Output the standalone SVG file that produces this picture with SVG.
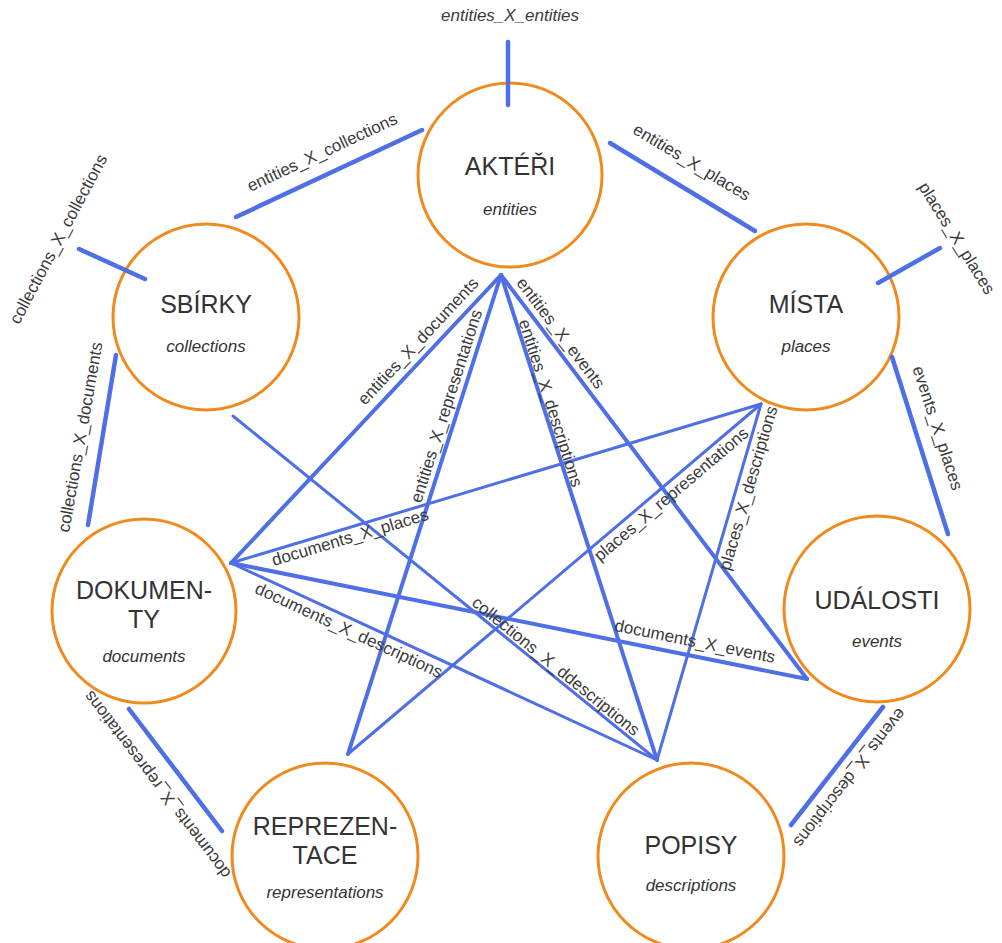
<svg xmlns="http://www.w3.org/2000/svg" width="1002" height="943" viewBox="0 0 1002 943">
<style>
.bg{fill:#ffffff}
.node circle{fill:#ffffff;stroke:#f08a1e;stroke-width:3}
.title{font-family:"Liberation Sans",Arial,sans-serif;font-size:25px;fill:#333333;text-anchor:middle}
.sub{font-family:"Liberation Sans",Arial,sans-serif;font-size:17px;font-style:italic;fill:#333333;text-anchor:middle}
.c line{stroke:#4f6fe6;stroke-linecap:round;fill:none}
.w5{stroke-width:4.5}
.w4{stroke-width:4}
.w3{stroke-width:3}
.lbl{font-family:"Liberation Sans",Arial,sans-serif;font-size:17px;fill:#3a3a3a;text-anchor:middle}
</style>
<rect class="bg" x="0" y="0" width="1002" height="943"/>
<g id="node-akteri" class="node"><circle cx="510" cy="175" r="92"/><text class="title" x="510" y="175">AKTÉŘI</text><text class="sub" x="510" y="215">entities</text></g>
<g id="node-sbirky" class="node"><circle cx="206" cy="317" r="93"/><text class="title" x="206" y="313">SBÍRKY</text><text class="sub" x="206" y="352">collections</text></g>
<g id="node-mista" class="node"><circle cx="806" cy="317" r="93"/><text class="title" x="806" y="313">MÍSTA</text><text class="sub" x="806" y="352">places</text></g>
<g id="node-dokumenty" class="node"><circle cx="144" cy="611" r="92"/><text class="title" x="144" y="599">DOKUMEN-</text><text class="title" x="144" y="628">TY</text><text class="sub" x="144" y="662">documents</text></g>
<g id="node-udalosti" class="node"><circle cx="877" cy="609" r="93"/><text class="title" x="877" y="609">UDÁLOSTI</text><text class="sub" x="877" y="647">events</text></g>
<g id="node-reprezentace" class="node"><circle cx="325" cy="856" r="93"/><text class="title" x="325" y="835">REPREZEN-</text><text class="title" x="325" y="864">TACE</text><text class="sub" x="325" y="898">representations</text></g>
<g id="node-popisy" class="node"><circle cx="691" cy="856" r="93"/><text class="title" x="691" y="854">POPISY</text><text class="sub" x="691" y="891">descriptions</text></g>
<g id="connectors" class="c">
<line class="w5" x1="508" y1="42" x2="508" y2="105"/>
<line class="w5" x1="236" y1="217" x2="422" y2="130"/>
<line class="w5" x1="610" y1="143" x2="755" y2="231"/>
<line class="w5" x1="878" y1="283" x2="940" y2="248"/>
<line class="w5" x1="79" y1="249" x2="145" y2="279"/>
<line class="w5" x1="116" y1="355" x2="88" y2="525"/>
<line class="w5" x1="892" y1="357" x2="948" y2="534"/>
<line class="w5" x1="883" y1="707" x2="791" y2="825"/>
<line class="w5" x1="129" y1="709" x2="222" y2="831"/>
<line class="w4" x1="501" y1="275" x2="231" y2="563"/>
<line class="w4" x1="501" y1="275" x2="348" y2="754"/>
<line class="w4" x1="501" y1="275" x2="657" y2="760"/>
<line class="w4" x1="501" y1="275" x2="807" y2="679"/>
<line class="w3" x1="231" y1="563" x2="761" y2="404"/>
<line class="w4" x1="231" y1="563" x2="807" y2="679"/>
<line class="w3" x1="231" y1="563" x2="657" y2="760"/>
<line class="w3" x1="761" y1="404" x2="348" y2="754"/>
<line class="w3" x1="761" y1="404" x2="657" y2="760"/>
<line class="w3" x1="233" y1="416" x2="657" y2="760"/>
</g>
<g id="labels">
<text class="lbl" style="font-style:italic" x="510" y="15" dy="0.35em">entities_X_entities</text>
<text class="lbl" transform="translate(322,152) rotate(-25)" dy="0.35em">entities_X_collections</text>
<text class="lbl" transform="translate(692,162) rotate(31)" dy="0.35em">entities_X_places</text>
<text class="lbl" transform="translate(957,238) rotate(58)" dy="0.35em">places_X_places</text>
<text class="lbl" transform="translate(58,239) rotate(-62)" dy="0.35em">collections_X_collections</text>
<text class="lbl" transform="translate(80,437) rotate(-80)" dy="0.35em">collections_X_documents</text>
<text class="lbl" transform="translate(938,428) rotate(72)" dy="0.35em">events_X_places</text>
<text class="lbl" transform="translate(850,778) rotate(128)" dy="0.35em">events_X_descriptions</text>
<text class="lbl" transform="translate(157,785) rotate(-127.3)" dy="0.35em">documents_X_representations</text>
<text class="lbl" transform="translate(418,341) rotate(-46.8)" dy="0.35em">entities_X_documents</text>
<text class="lbl" transform="translate(446,406) rotate(-72.3)" dy="0.35em">entities_X_representations</text>
<text class="lbl" transform="translate(551,403) rotate(72.2)" dy="0.35em">entities_X_descriptions</text>
<text class="lbl" transform="translate(561,333) rotate(52.9)" dy="0.35em">entities_X_events</text>
<text class="lbl" transform="translate(350,537) rotate(-16.7)" dy="0.35em">documents_X_places</text>
<text class="lbl" transform="translate(349,630) rotate(24.8)" dy="0.35em">documents_X_descriptions</text>
<text class="lbl" transform="translate(695,641) rotate(11.4)" dy="0.35em">documents_X_events</text>
<text class="lbl" transform="translate(556,666) rotate(39)" dy="0.35em">collections_X_ddescriptions</text>
<text class="lbl" transform="translate(671,494) rotate(-40.3)" dy="0.35em">places_X_representations</text>
<text class="lbl" transform="translate(748,488) rotate(-73.7)" dy="0.35em">places_X_descriptions</text>
</g>
</svg>
